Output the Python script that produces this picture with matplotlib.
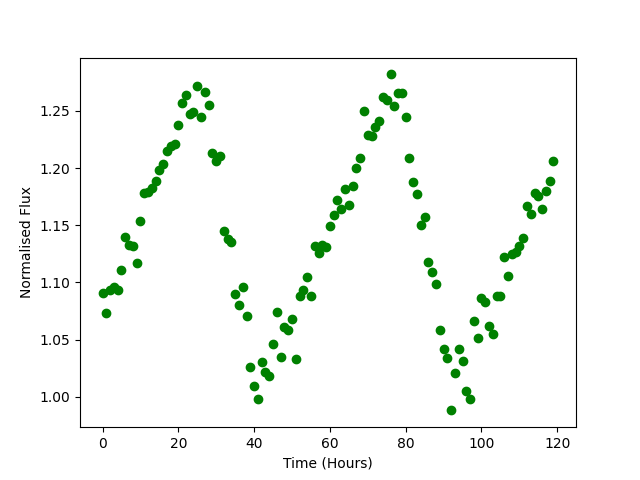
import matplotlib
matplotlib.use("Agg")
import matplotlib.pyplot as plt
import numpy as np

time_hours = np.arange(120)
flux = [
    1.091, 1.073, 1.093, 1.096, 1.093, 1.111, 1.140, 1.133, 1.132, 1.117,
    1.154, 1.178, 1.179, 1.183, 1.189, 1.198, 1.204, 1.215, 1.219, 1.221,
    1.238, 1.257, 1.264, 1.247, 1.249, 1.272, 1.245, 1.267, 1.255, 1.213,
    1.206, 1.211, 1.145, 1.138, 1.135, 1.090, 1.080, 1.096, 1.071, 1.026,
    1.009, 0.998, 1.030, 1.022, 1.018, 1.046, 1.074, 1.035, 1.061, 1.058,
    1.068, 1.033, 1.088, 1.093, 1.105, 1.088, 1.132, 1.126, 1.133, 1.131,
    1.149, 1.159, 1.172, 1.164, 1.182, 1.168, 1.184, 1.200, 1.209, 1.250,
    1.229, 1.228, 1.236, 1.241, 1.262, 1.260, 1.282, 1.254, 1.266, 1.266,
    1.245, 1.209, 1.188, 1.177, 1.150, 1.157, 1.118, 1.109, 1.099, 1.058,
    1.042, 1.034, 0.988, 1.021, 1.042, 1.031, 1.005, 0.998, 1.066, 1.051,
    1.086, 1.083, 1.062, 1.055, 1.088, 1.088, 1.122, 1.106, 1.125, 1.127,
    1.132, 1.139, 1.167, 1.160, 1.178, 1.176, 1.164, 1.180, 1.189, 1.206,
]

fig, ax = plt.subplots(figsize=(6.4, 4.8), dpi=100)
ax.scatter(time_hours, flux, color="green")
ax.set_xlabel("Time (Hours)")
ax.set_ylabel("Normalised Flux")
fig.savefig("out.png")
